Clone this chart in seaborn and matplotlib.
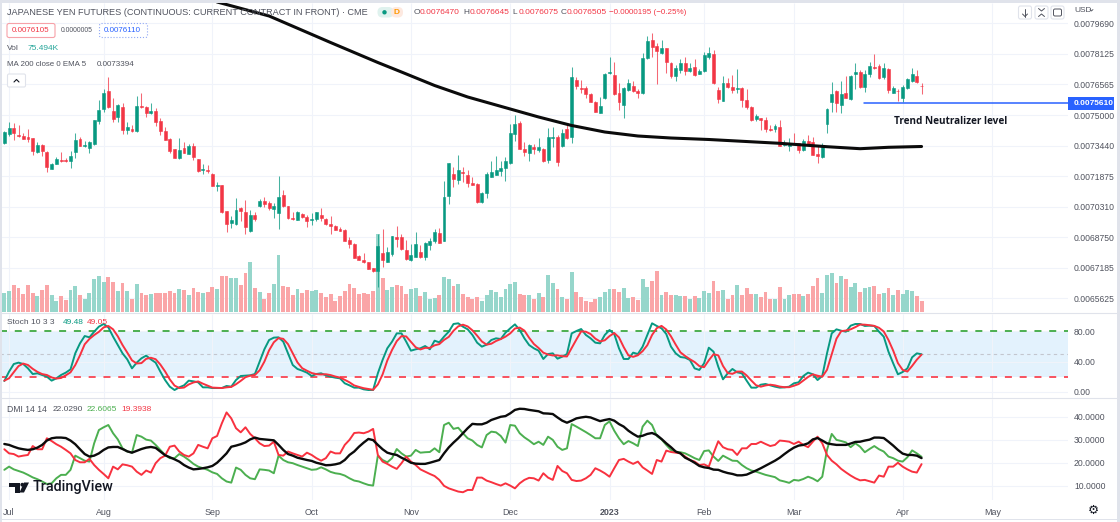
import pandas as pd
import matplotlib
matplotlib.use('Agg')
import matplotlib.pyplot as plt
from matplotlib.patches import Rectangle, FancyBboxPatch, Polygon, Circle
import seaborn as sns

# prices in units of 0.0000001
opens = [73590,74033,74323,73982,73948,73880,73812,73113,73471,73130,
         72260,72516,72721,72703,72652,73113,73778,73437,73300,73505,
         74715,75312,76250,75227,74920,75431,74238,74289,74187,75466,
         75397,75108,75227,74715,74187,73778,73249,72806,73300,73027,
         73403,72755,72175,72192,71970,71391,71425,70095,69481,69413,
         70248,70061,69089,69890,70334,70623,70504,70197,70010,70896,
         70334,69737,69652,69958,69805,69652,69686,69890,69703,69430,
         69328,69157,69106,68594,68424,67793,67588,67469,67162,67026,
         67964,67503,67895,68765,68748,68100,67571,67759,67998,67759,
         68373,68543,68987,68577,70862,71970,71680,72090,71936,71527,
         71476,70555,71033,71851,71953,72141,72294,72550,74016,74596,
         73266,73079,73351,73215,73283,72703,73846,73880,73420,74289,
         73897,76795,76386,76369,76062,75687,75108,75858,77136,77051,
         76131,75534,76284,76489,76250,76113,77921,78859,78552,78159,
         78415,77682,77017,77307,77682,77239,77443,77102,77273,77989,
         78108,76267,75738,76659,76420,76352,76386,75790,75397,74818,
         74835,74749,74289,74272,74391,73471,73437,73556,73556,73215,
         73675,73624,72993,72840,74528,75687,76216,75534,76113,75807,
         77119,77188,76454,77102,77443,77529,76932,77375,76148,76250,
         75858,76369,76744,77000,76505]
highs = [74204,74630,74579,74494,74067,74272,73812,73607,73505,73147,
         72533,72857,73130,72823,73147,74085,73863,73692,73692,74767,
         75772,76318,76966,75858,75551,75636,74647,74494,75977,76113,
         75466,75602,75380,74835,74408,73812,73283,73812,73607,73505,
         73556,72755,72499,72431,72021,71561,71425,70095,69839,70743,
         70316,70657,70146,70027,70692,70794,70623,70487,71885,71169,
         70351,70027,70095,70010,69873,69975,70061,70248,69720,69839,
         69379,69294,69157,68782,68441,67844,67964,67503,67196,68918,
         69157,68270,68833,69328,68918,68611,68407,69004,68356,68526,
         68697,69174,69208,71629,72533,72362,72942,72362,72192,71851,
         71544,71067,72073,72669,72925,72652,72840,74545,74988,74681,
         73641,73522,73522,73812,73300,74357,74374,73982,74289,74528,
         77477,76932,76795,76489,76148,75738,75943,77136,77955,77699,
         76625,76454,76830,76744,76318,78194,79046,79182,78671,78841,
         78415,77699,77563,77853,77955,77682,77853,77341,78245,78500,
         78330,76420,77000,76881,77051,77341,76420,76318,75466,75056,
         74852,74886,74494,74528,74749,73726,73812,74067,73590,73761,
         73982,73863,73471,73590,75346,76676,76284,76761,77000,77051,
         77648,77307,77307,77699,78125,77597,77648,77409,76506,76318,
         76540,76881,77426,77307,76645]
lows = [73505,73931,73726,73863,73761,73607,72959,73079,72925,72107,
        72226,72499,72601,72584,72311,72806,73403,73351,73044,73471,
        74545,75176,75346,74630,74630,74050,74016,74153,74153,75346,
        74903,75073,74443,73982,73726,73044,72806,72755,73044,73010,
        72703,72073,71987,72021,71374,71101,69975,69038,69242,69379,
        69583,68918,69004,69566,70282,70316,70146,69720,69174,70282,
        69686,69634,69634,69720,69293,69379,69600,69600,69379,68918,
        69123,69055,68543,68185,67691,67571,67418,67111,66992,66224,
        67247,67469,67793,68270,68100,67588,67554,67725,67691,67588,
        68100,68441,68441,68543,70453,71339,71476,71561,71305,71408,
        70521,70521,70743,71834,71919,71902,71646,72516,73692,73266,
        72908,72669,73010,73130,72601,72533,73385,72414,73385,73778,
        73590,76318,76148,75858,75653,75142,75090,75824,77102,76028,
        75261,74835,76250,76182,75892,76079,77887,77989,76574,78125,
        77136,76915,76761,77171,77051,77205,77000,77085,77188,77853,
        76591,75602,75704,76369,76113,76148,75431,75295,74715,74715,
        74238,74153,74187,74153,73403,73403,73181,73471,73044,73181,
        73471,72942,72567,72806,74102,75176,75176,75090,75858,75772,
        76318,76369,76165,76932,77358,76864,76864,76148,76113,75721,
        75653,76318,76710,76625,76075]
closes = [74153,74323,74067,73914,73795,73778,73164,73488,73181,72345,
          72482,72738,72669,72635,72925,73726,73437,73488,73607,74732,
          75244,76148,75431,74801,75500,74238,74408,74170,75466,75431,
          75108,75210,74664,74204,73726,73164,72823,73198,73062,73403,
          72857,72141,72243,72124,71391,71442,70027,69413,69634,70146,
          70078,69276,69890,69669,70623,70436,70231,70368,70828,70334,
          69737,69686,70061,69805,69600,69686,70027,69737,69430,69328,
          69140,69089,68577,68424,67708,67588,67486,67145,67026,68305,
          67588,67998,68816,68680,68134,67623,67861,68407,67742,68475,
          68577,69038,68475,70828,72533,71749,72192,72039,71544,71442,
          70538,71033,71970,72073,72175,72294,72669,74067,74528,73283,
          73130,73488,73249,73351,72635,73897,73897,72584,74085,73812,
          76932,76489,76335,76062,75687,75176,75483,77102,77205,76079,
          75687,76403,76659,76216,76131,77921,78790,78466,78262,78415,
          77699,77000,77392,77682,77239,77409,77034,77239,78074,78159,
          76659,75807,76659,76454,76301,76386,75772,75397,74749,74954,
          74749,74272,74221,74443,73437,73556,73590,73522,73215,73692,
          73505,72976,72908,73471,75312,76079,75602,76062,75892,77000,
          77188,76420,77102,77529,77392,76915,77392,76284,76369,76216,
          76420,76830,77119,76676,76470]

# volume in thousands
volume = [133,144,185,163,124,185,128,112,149,185,
          119,78,110,85,151,181,115,92,133,227,
          247,206,240,204,144,199,142,87,190,131,
          119,124,128,133,133,142,128,156,149,119,
          165,137,128,137,174,158,247,247,231,236,
          185,266,344,167,137,89,128,195,392,181,
          172,119,158,133,151,147,151,128,105,124,
          76,110,142,195,163,124,133,124,147,536,
          231,149,172,185,179,121,156,167,110,140,
          89,94,117,238,227,176,192,124,105,87,
          101,76,115,153,140,105,156,195,206,126,
          119,117,87,131,105,252,202,156,105,87,
          273,137,101,78,69,89,101,140,158,158,
          140,167,96,101,82,224,172,213,282,117,
          135,115,117,110,108,92,108,98,144,131,
          213,144,149,87,115,183,115,163,124,124,
          105,140,87,87,172,92,115,124,124,112,
          124,179,234,128,252,266,199,247,229,172,
          199,137,163,172,179,124,128,167,117,153,
          124,153,144,110,75.494]

# EMA 200, read at a few bars (bar number, price)
ma_bars = [46,57,70,80,85,92,99,108,114,121,128,135,142,150,165,175,182,188,195]
ma_vals = [80785,80069,78713,77690,77204,76514,75926,75312,74903,74468,
           74135,73931,73828,73752,73557,73383,73281,73353,73394]

stoch_k = [14.4,26.7,36.7,38.5,36.7,31.0,23.6,24.5,22.3,20.1,
           14.9,17.9,22.3,25.4,29.7,50.7,63.8,73.4,71.7,79.1,
           85.7,89.2,84.8,72.6,61.6,50.7,42.8,31.0,38.5,44.2,
           47.7,42.8,38.5,26.7,15.7,7.0,2.6,6.1,8.7,14.9,
           14.0,12.7,6.1,6.1,5.2,5.2,5.2,7.9,7.0,15.7,
           21.0,21.4,21.9,23.6,39.8,56.0,68.2,71.3,71.7,66.0,
           50.7,35.4,30.2,28.0,25.4,21.0,23.6,24.5,21.9,20.1,
           18.8,17.9,11.4,8.7,5.7,5.7,3.5,2.6,2.6,24.5,
           42.0,57.3,66.0,76.9,76.9,66.0,54.2,56.0,57.3,60.3,
           56.0,67.3,65.1,72.6,79.1,89.2,90.1,85.7,82.2,74.8,
           64.7,59.5,62.1,68.2,70.4,69.5,77.8,83.5,88.7,81.3,
           70.4,61.6,57.3,54.2,43.3,49.8,50.7,43.7,46.3,49.8,
           76.9,80.0,82.6,74.8,70.4,64.7,63.8,74.8,81.3,76.1,
           57.3,43.3,43.3,51.6,49.8,59.5,74.8,90.1,86.6,83.5,
           76.1,59.5,50.7,45.9,45.0,42.0,31.0,28.9,37.6,58.1,
           52.9,33.2,16.6,24.5,30.2,25.8,24.5,14.9,5.7,5.7,
           9.6,10.5,8.7,7.0,5.7,6.1,7.0,11.4,12.7,21.0,
           25.4,23.2,15.7,21.0,50.7,76.9,82.2,80.4,79.1,87.0,
           89.2,89.2,86.6,87.0,86.6,79.1,72.6,52.9,37.6,23.2,
           26.2,31.0,45.5,50.7,49.48]
stoch_d = [14.9,18.0,25.9,34.0,37.3,35.4,30.4,26.4,23.5,22.3,
           19.1,17.6,18.4,21.9,25.8,35.3,48.1,62.6,69.6,74.7,
           78.9,84.7,86.6,82.2,73.0,61.6,51.7,41.5,37.4,37.9,
           43.5,44.9,43.0,36.0,27.0,16.5,8.4,5.2,5.8,9.9,
           12.5,13.9,10.9,8.3,5.8,5.5,5.2,6.1,6.7,10.2,
           14.6,19.4,21.4,22.3,28.5,39.8,54.7,65.2,70.7,69.7,
           62.8,50.7,38.8,31.2,27.9,24.9,23.4,23.0,23.3,22.2,
           20.3,18.9,16.0,12.7,8.6,6.7,5.0,3.9,2.9,9.9,
           23.0,41.3,55.1,66.7,73.3,72.9,65.7,58.7,55.8,57.9,
           57.9,61.2,62.8,68.3,72.3,80.3,86.1,88.3,86.0,80.9,
           73.9,66.3,62.1,63.3,66.9,69.4,72.6,76.9,83.3,84.5,
           80.5,71.1,63.0,57.7,51.6,49.1,47.9,48.1,46.9,46.6,
           57.7,68.9,79.5,79.1,76.0,70.0,66.3,67.8,73.3,77.4,
           71.6,58.9,48.0,46.1,48.2,53.6,61.4,74.8,83.8,86.7,
           82.0,73.0,62.1,52.0,47.2,43.0,39.3,34.0,32.5,41.6,
           49.5,48.1,34.2,24.8,23.8,26.8,26.8,21.7,15.0,8.8,
           7.0,8.6,9.6,8.7,7.1,6.3,6.3,8.2,10.4,15.0,
           19.7,23.2,21.4,20.0,29.1,49.5,69.9,79.8,80.6,82.2,
           85.1,88.5,88.3,87.6,86.7,84.2,79.4,68.2,54.3,37.9,
           29.0,26.8,34.2,42.4,49.05]

adx = [28.2,27.8,27.0,26.3,25.9,25.6,25.9,26.6,27.8,29.7,
       30.7,31.0,31.0,30.8,29.7,28.1,25.9,23.8,22.7,23.1,
       24.1,25.6,26.7,26.9,26.9,26.0,25.0,24.4,25.2,26.0,
       26.6,26.9,26.5,24.9,23.3,22.4,21.5,20.5,19.0,17.9,
       17.1,17.3,17.6,18.0,18.6,20.0,22.0,24.1,27.0,27.5,
       28.1,28.9,30.2,31.0,30.4,30.2,30.0,29.8,27.8,25.6,
       23.8,23.1,22.2,21.7,21.2,20.8,20.0,19.5,18.9,19.0,
       19.3,19.8,21.2,23.4,24.9,27.0,28.8,30.4,29.9,27.8,
       25.9,24.4,23.8,23.4,22.2,21.2,20.0,19.6,19.5,19.5,
       20.0,20.6,21.2,24.1,26.7,28.8,30.7,32.9,35.1,37.0,
       36.8,36.8,37.5,38.7,39.4,40.1,40.4,41.6,43.1,43.6,
       43.5,43.1,42.8,42.5,41.6,41.5,41.3,39.8,38.4,37.5,
       38.4,39.4,39.8,40.1,39.8,39.0,38.2,38.7,39.1,38.4,
       36.9,35.8,34.0,32.6,31.4,31.8,32.6,33.0,32.1,30.4,
       28.5,26.8,24.9,24.1,22.2,21.2,20.0,18.6,18.0,17.7,
       17.0,16.9,16.1,15.5,15.1,14.5,14.5,14.8,15.7,16.6,
       17.6,18.7,19.8,20.9,22.2,23.8,25.3,26.6,27.5,27.8,
       28.5,30.2,30.8,29.7,28.5,28.1,27.8,27.8,27.8,28.4,
       29.1,29.2,29.7,30.1,31.0,31.0,30.8,29.2,27.5,25.6,
       24.0,23.4,23.4,23.1,22.029]
plus_di = [16.9,18.3,17.1,16.4,15.7,14.7,13.6,12.8,11.8,10.7,
           11.0,13.2,14.7,14.7,16.9,23.1,22.0,20.9,20.5,28.5,
           34.3,35.5,36.5,32.9,30.2,26.3,24.9,24.4,32.1,31.4,
           30.1,29.7,27.8,25.6,23.4,22.0,22.0,23.8,22.7,21.2,
           19.5,18.3,17.6,16.9,15.8,15.1,13.2,11.8,11.3,17.9,
           16.9,14.7,13.2,12.8,17.1,16.9,16.6,15.4,23.1,21.2,
           20.2,19.8,19.0,18.3,17.6,16.9,17.1,18.0,17.1,16.0,
           15.4,15.1,14.4,13.2,12.2,11.8,11.0,10.3,10.0,23.1,
           21.2,20.2,22.0,26.0,24.1,22.7,23.1,25.6,24.4,24.6,
           24.7,26.3,24.6,36.5,37.5,34.8,35.3,32.9,30.7,29.7,
           27.8,26.7,32.1,33.6,33.3,31.7,28.8,36.5,36.2,32.9,
           31.1,29.7,28.1,29.2,27.8,31.4,30.0,27.0,25.6,26.3,
           36.9,35.8,34.6,33.4,32.1,30.7,30.7,36.5,38.1,34.0,
           30.7,28.1,29.5,28.5,27.3,35.8,38.4,36.5,31.7,30.2,
           27.8,25.6,24.7,24.6,24.1,23.1,22.0,21.2,25.1,25.4,
           22.7,20.8,23.1,22.0,20.9,20.8,19.0,17.6,16.6,16.1,
           15.4,14.7,14.2,13.7,12.3,11.8,11.2,12.5,12.2,12.9,
           13.9,13.1,11.9,13.9,25.6,32.6,30.0,29.5,28.9,26.8,
           28.5,27.0,24.6,26.0,27.3,25.9,24.9,22.7,22.0,20.9,
           20.5,22.4,25.4,24.1,22.6065]
minus_di = [25.9,24.1,23.8,22.7,23.1,23.4,27.3,25.9,25.9,30.7,
            29.5,28.1,27.0,25.6,24.1,21.2,20.2,20.2,21.7,19.0,
            16.9,15.1,13.2,18.3,17.1,19.3,18.9,18.3,16.1,14.7,
            16.6,15.7,19.8,22.0,23.1,27.0,27.5,24.9,23.4,22.7,
            24.1,27.8,27.0,26.3,30.7,31.7,37.2,42.0,39.4,35.1,
            33.3,35.5,32.6,30.7,28.5,27.3,27.5,29.2,23.4,23.1,
            24.9,24.1,23.4,22.7,24.4,23.4,22.0,20.9,22.0,24.9,
            24.1,24.1,27.8,30.0,33.0,33.2,32.9,33.6,34.8,23.4,
            20.5,19.5,18.3,17.3,19.8,22.7,20.5,19.0,17.1,16.1,
            15.1,14.2,12.5,9.9,8.8,8.1,7.4,7.1,8.1,8.1,
            13.5,13.5,12.2,11.5,10.7,10.0,11.0,10.0,8.8,11.0,
            12.5,13.4,13.2,12.2,15.4,13.5,12.5,18.6,16.4,15.4,
            12.5,12.0,12.2,13.2,14.7,17.6,16.6,15.4,13.9,17.6,
            21.2,21.7,20.5,19.5,20.5,18.0,16.6,15.1,21.2,20.5,
            25.3,24.7,24.4,24.1,22.7,21.2,20.5,19.0,19.3,18.3,
            24.1,29.4,26.8,25.9,25.6,23.4,26.3,26.3,28.2,28.2,
            29.2,28.2,27.3,27.8,29.7,29.5,29.2,28.2,29.2,27.8,
            26.8,29.2,31.4,28.5,23.4,20.9,19.3,17.3,15.8,14.4,
            13.2,12.3,12.5,11.9,11.3,14.4,13.9,18.3,18.3,20.0,
            18.3,17.1,16.1,15.7,19.3938]

price_ticks = [79690,78125,76565,75000,73440,71875,70310,68750,67185,65625]
stoch_ticks = [0,40,80]
dmi_ticks = [10,20,30,40]
month_bars = [2,22,45,66,87,108,129,149,168,191,210]
month_labels = ['Jul','Aug','Sep','Oct','Nov','Dec','2023','Feb','Mar','Apr','May']

GREEN = '#089981'
RED = '#f23645'
GRID = '#f0f3fa'
TXT = '#50535e'
W, H = 1120, 522

bars = list(range(1, len(opens) + 1))
df = pd.DataFrame({'bar': bars, 'open': opens, 'high': highs, 'low': lows, 'close': closes,
                   'vol': volume, 'k': stoch_k, 'd': stoch_d,
                   'adx': adx, 'pdi': plus_di, 'mdi': minus_di})
df['side'] = ['up' if c >= o else 'down' for o, c in zip(opens, closes)]
ma = pd.DataFrame({'bar': ma_bars, 'val': ma_vals})

sns.set_theme(style='white')
plt.rcParams['font.family'] = ['Liberation Sans', 'DejaVu Sans']

fig = plt.figure(figsize=(W / 100, H / 100), dpi=100, facecolor='white')


def panel(top, bottom):
    return fig.add_axes([0, 1 - bottom / H, 1068 / W, (bottom - top) / H])


XLIM = (1 - 4.33 / 4.728, 1 + (1068 - 4.33) / 4.728)

# price panel, volume sits on a twin axis underneath
ax = panel(3, 312)
ax_vol = ax.twinx()
ax.set_zorder(ax_vol.get_zorder() + 1)
ax.patch.set_visible(False)

sns.barplot(data=df, x='bar', y='vol', hue='side', native_scale=True, dodge=False, width=0.82,
            palette={'up': '#96d6cb', 'down': '#faa5a7'}, saturation=1, errorbar=None,
            legend=False, linewidth=0, ax=ax_vol)
ax_vol.set_ylim(0, 2123)
ax_vol.hlines(price_ticks, 0, 1, colors=GRID, lw=0.8, transform=ax.get_yaxis_transform(), zorder=0)
ax_vol.vlines(month_bars, 0, 1, colors=GRID, lw=0.8, transform=ax_vol.get_xaxis_transform(), zorder=0)
ax_vol.set_yticks([])
ax_vol.set_ylabel('')
ax_vol.set_xlabel('')

colors = [GREEN if s == 'up' else RED for s in df['side']]
ax.vlines(df['bar'], df['low'], df['high'], colors=colors, lw=0.75, alpha=0.75, zorder=2)
ax.bar(df['bar'], (df['close'] - df['open']).abs(), bottom=df[['open', 'close']].min(axis=1),
       width=0.62, color=colors, edgecolor=colors, linewidth=0.4, zorder=3)
sns.lineplot(data=ma, x='bar', y='val', color='#0b0b0b', linewidth=2.2, ax=ax, zorder=4)
ax.plot([182.8, 300], [75610, 75610], color='#2962ff', lw=1.1, zorder=4)
ax.set_ylim(78125 - 51.15 * (312 - 54), 78125 + 51.15 * (54 - 3))
ax.yaxis.tick_right()
ax.set_yticks(price_ticks)
ax.set_yticklabels([f'{p / 1e7:.7f}' for p in price_ticks])
ax.set_xlabel('')
ax.set_ylabel('')

# stochastic
ax_st = panel(314, 398)
ax_st.set_ylim(-7.87, 102.3)
ax_st.axhspan(20, 80, color='#e3f2fd', lw=0, zorder=0)
ax_st.hlines(stoch_ticks, 0, 1, colors=GRID, lw=0.8, transform=ax_st.get_yaxis_transform(), zorder=0)
ax_st.axhline(50, color='#c3c6ce', lw=0.8, ls=(0, (3, 3)), zorder=1)
ax_st.axhline(80, color='#4caf50', lw=1.4, ls=(0, (3.6, 4)), zorder=1)
ax_st.axhline(20, color='#f7525f', lw=1.4, ls=(0, (3.6, 4)), zorder=1)
sns.lineplot(data=df, x='bar', y='k', color=GREEN, linewidth=1.4, ax=ax_st, zorder=3)
sns.lineplot(data=df, x='bar', y='d', color='#f8313f', linewidth=1.4, ax=ax_st, zorder=4)
ax_st.yaxis.tick_right()
ax_st.set_yticks(stoch_ticks)
ax_st.set_yticklabels([f'{v:.2f}' for v in stoch_ticks])
ax_st.set_xlabel('')
ax_st.set_ylabel('')

# DMI
ax_dmi = panel(399, 500)
ax_dmi.set_ylim(40 - 83 / 2.287, 40 + 18 / 2.287)
ax_dmi.hlines(dmi_ticks, 0, 1, colors=GRID, lw=0.8, transform=ax_dmi.get_yaxis_transform(), zorder=0)
sns.lineplot(data=df, x='bar', y='pdi', color='#4caf50', linewidth=1.4, ax=ax_dmi, zorder=2)
sns.lineplot(data=df, x='bar', y='mdi', color='#f8313f', linewidth=1.4, ax=ax_dmi, zorder=3)
sns.lineplot(data=df, x='bar', y='adx', color='#0b0b0b', linewidth=1.7, ax=ax_dmi, zorder=4)
ax_dmi.yaxis.tick_right()
ax_dmi.set_yticks(dmi_ticks)
ax_dmi.set_yticklabels([f'{v:.4f}' for v in dmi_ticks])
ax_dmi.set_xlabel('')
ax_dmi.set_ylabel('')

for a in (ax, ax_vol, ax_st, ax_dmi):
    a.set_xlim(*XLIM)
    sns.despine(ax=a, left=True, bottom=True, right=True, top=True)
for a in (ax, ax_st):
    a.set_xticks([])
ax_vol.set_xticks([])
ax_st.vlines(month_bars, 0, 1, colors=GRID, lw=0.8, transform=ax_st.get_xaxis_transform(), zorder=0)
ax_dmi.vlines(month_bars, 0, 1, colors=GRID, lw=0.8, transform=ax_dmi.get_xaxis_transform(), zorder=0)
ax_dmi.set_xticks(month_bars)
ax_dmi.set_xticklabels(month_labels)
ax_dmi.tick_params(axis='x', length=0, pad=6, labelsize=6.4, labelcolor=TXT)
ax_dmi.get_xticklabels()[6].set_fontweight('bold')
for a in (ax, ax_st, ax_dmi):
    a.tick_params(axis='y', length=0, pad=4.3, labelsize=6.2, labelcolor=TXT)

# overlay in pixel coordinates for legends, badges and the frame
ov = fig.add_axes([0, 0, 1, 1], zorder=20)
ov.set_xlim(0, W)
ov.set_ylim(H, 0)
ov.axis('off')
ov.patch.set_visible(False)

FRAME = '#e0e3eb'
ov.add_patch(Rectangle((0, 0), W, 2.5, color=FRAME, lw=0))
ov.add_patch(Rectangle((0, 0), 1.5, H, color=FRAME, lw=0))
ov.add_patch(Rectangle((1117, 0), 3, H, color=FRAME, lw=0))
ov.add_patch(Rectangle((0, 519), W, 1.2, color=FRAME, lw=0))
ov.plot([0, 1117], [313, 313], color=FRAME, lw=0.8)
ov.plot([0, 1117], [398, 398], color=FRAME, lw=0.8)


def label(x, y, s, color=TXT, size=6.0, **kw):
    ov.text(x, y, s, color=color, fontsize=size, va='center', ha='left', **kw)


label(7, 12.5, 'JAPANESE YEN FUTURES (CONTINUOUS: CURRENT CONTRACT IN FRONT) · CME', size=6.62)
ov.add_patch(FancyBboxPatch((377.5, 7), 16, 10.5, boxstyle='round,pad=0,rounding_size=5', fc='#dff2ee', ec='none'))
ov.add_patch(FancyBboxPatch((391, 7), 12, 10.5, boxstyle='round,pad=0,rounding_size=5', fc='#fde9e0', ec='none'))
ov.add_patch(Circle((384.5, 12.3), 2.2, fc=GREEN, ec='none'))
label(394, 12.3, 'D', color='#ff9800', size=6, fontweight='bold')

xs = [413.5, 463, 512, 560.5]
for x, n, v in zip(xs, 'OHLC', ['0.0076470', '0.0076645', '0.0076075', '0.0076505']):
    label(x, 12.5, n, size=6)
    label(x + 6.5, 12.5, v, color=RED, size=6)
label(609, 12.5, '\u22120.0000195 (\u22120.25%)', color=RED, size=5.8)

ov.add_patch(FancyBboxPatch((7, 23.5), 48, 14, boxstyle='round,pad=0,rounding_size=2', fc='white', ec='#f7a1a8', lw=0.8))
label(12, 30.5, '0.0076105', color=RED, size=5.8)
label(61, 30.5, '0.0000005', size=4.9)
ov.add_patch(FancyBboxPatch((99.5, 23.5), 48, 14, boxstyle='round,pad=0,rounding_size=2', fc='white', ec='#90a8f5', lw=0.8, ls=':'))
label(104, 30.5, '0.0076110', color='#2962ff', size=5.8)

label(7, 49, 'Vol')
label(28, 49, '75.494K', color='#26a69a')
label(7, 65, 'MA 200 close 0 EMA 5', size=5.7)
label(97, 65, '0.0073394', size=5.8)
ov.add_patch(FancyBboxPatch((7.5, 74), 18, 13, boxstyle='round,pad=0,rounding_size=1.5', fc='white', ec=FRAME, lw=0.8))
ov.plot([14, 16.5, 19], [82, 79.5, 82], color='#131722', lw=0.8)

ov.add_patch(Rectangle((1068, 96.5), 46, 13, fc='#2962ff', ec='none'))
label(1074, 103.2, '0.0075610', color='white', size=6.0, fontweight='bold')
label(894.5, 121, 'Trend Neutralizer level', color='#131722', size=7.2, fontweight='bold', family='Open Sans')

label(7, 323, 'Stoch 10 3 3')
label(63, 323, '49.48', color=GREEN)
label(87, 323, '49.05', color=RED)
label(7, 409.5, 'DMI 14 14', size=6.2)
label(53, 409.5, '22.0290')
label(87, 409.5, '22.6065', color='#4caf50')
label(121, 409.5, '19.3938', color=RED)

# logo
ov.add_patch(Polygon([(9, 482.5), (20, 482.5), (20, 492.5), (15, 492.5), (15, 487), (9, 487)], fc='#131722', ec='none'))
ov.add_patch(Circle((22.3, 484.7), 1.9, fc='#131722', ec='none'))
ov.add_patch(Polygon([(24, 482.5), (29, 482.5), (24, 492.5), (19.5, 492.5)], fc='#131722', ec='none'))
label(33, 487.5, 'TradingView', color='#131722', size=10.4, family='Roboto', fontweight='medium')

# top right buttons
for x in (1018.5, 1035, 1051):
    ov.add_patch(FancyBboxPatch((x, 6), 13, 13, boxstyle='round,pad=0,rounding_size=2', fc='white', ec=FRAME, lw=0.8))
ov.plot([1025, 1025], [9, 16.5], color=TXT, lw=0.7)
ov.plot([1022.5, 1025, 1027.5], [14, 16.5, 14], color=TXT, lw=0.7)
ov.plot([1038.5, 1041.5, 1044.5], [8.5, 11, 8.5], color=TXT, lw=0.7)
ov.plot([1038.5, 1041.5, 1044.5], [16.5, 14, 16.5], color=TXT, lw=0.7)
ov.add_patch(FancyBboxPatch((1053.5, 9), 8, 7, boxstyle='round,pad=0,rounding_size=1.5', fc='white', ec=TXT, lw=0.7))
label(1074, 10, 'USD', size=6)
ov.plot([1090, 1091.5, 1093], [9.5, 11, 9.5], color=TXT, lw=0.6)
ov.text(1093, 510.5, '\u2699', color='#131722', fontsize=9, ha='center', va='center', family='DejaVu Sans')

fig.savefig('out.png', dpi=100)
